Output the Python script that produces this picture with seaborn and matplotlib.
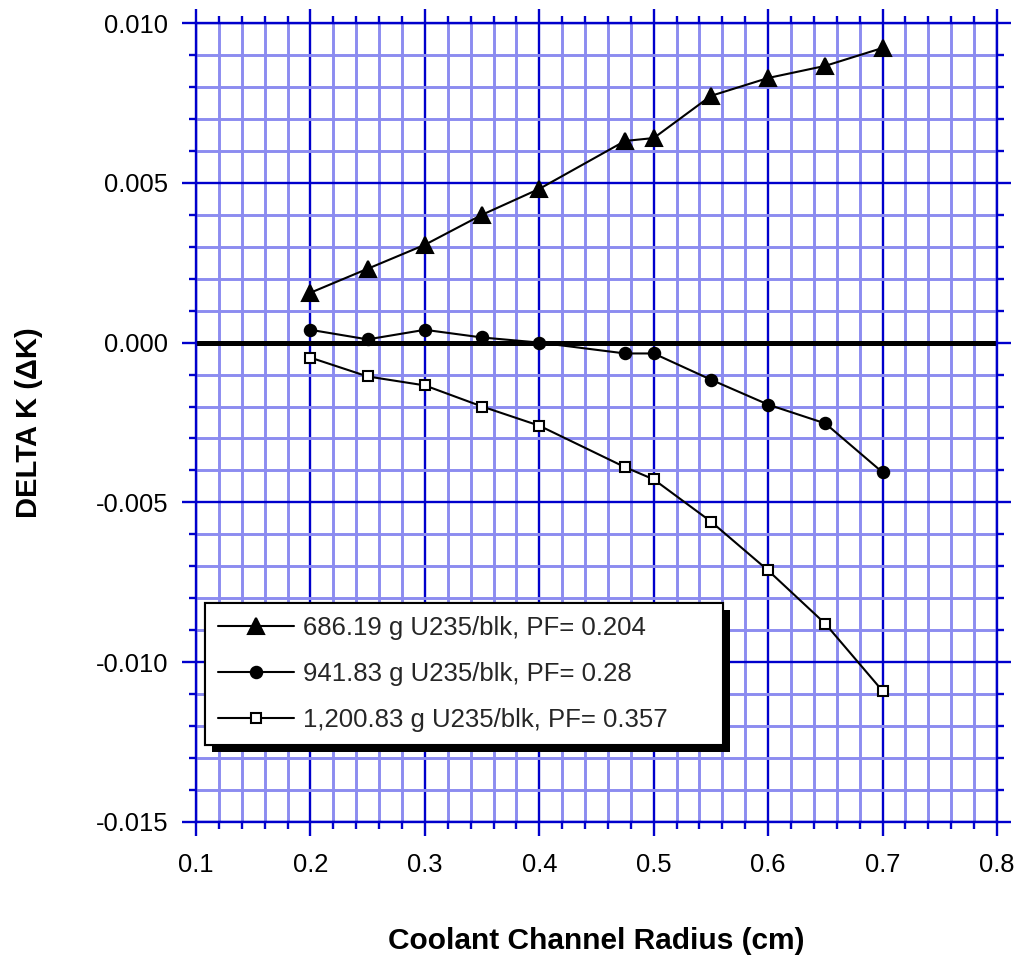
import numpy as np
import pandas as pd
import matplotlib
matplotlib.use("Agg")
import matplotlib.pyplot as plt
import matplotlib.patheffects as pe
from matplotlib.lines import Line2D
from matplotlib.ticker import MultipleLocator, FormatStrFormatter
import seaborn as sns

# ---- data ----
radius = [0.2, 0.25, 0.3, 0.35, 0.4, 0.475, 0.5, 0.55, 0.6, 0.65, 0.7]
dk_686 = [0.00156, 0.00231, 0.00306, 0.00400, 0.00481, 0.00631, 0.00640,
          0.00772, 0.00828, 0.00866, 0.00922]
dk_941 = [0.00040, 0.00010, 0.00040, 0.00016, 0.00000, -0.00034, -0.00034,
          -0.00116, -0.00194, -0.00253, -0.00406]
dk_1200 = [-0.00047, -0.00106, -0.00134, -0.00200, -0.00260, -0.00390, -0.00428,
           -0.00560, -0.00713, -0.00880, -0.01090]
labels = ["686.19 g U235/blk, PF= 0.204",
          "941.83 g U235/blk, PF= 0.28",
          "1,200.83 g U235/blk, PF= 0.357"]

df = pd.DataFrame({
    "radius": radius * 3,
    "dk": dk_686 + dk_941 + dk_1200,
    "series": [labels[0]] * len(radius) + [labels[1]] * len(radius) + [labels[2]] * len(radius),
})

sns.set_style("white")
plt.rcParams["font.family"] = ["Liberation Sans", "DejaVu Sans"]
plt.rcParams["axes.unicode_minus"] = False

fig = plt.figure(figsize=(10.16, 9.59), dpi=100)
ax = fig.add_axes([0.1929, 0.1429, 0.7884, 0.8331])

major_c = "#0000cc"
minor_c = "#8c8cf0"

ax.set_xlim(0.1, 0.8)
ax.set_ylim(-0.015, 0.010)
ax.xaxis.set_major_locator(MultipleLocator(0.1))
ax.xaxis.set_minor_locator(MultipleLocator(0.02))
ax.yaxis.set_major_locator(MultipleLocator(0.005))
ax.yaxis.set_minor_locator(MultipleLocator(0.001))
ax.xaxis.set_major_formatter(FormatStrFormatter("%.1f"))
ax.yaxis.set_major_formatter(FormatStrFormatter("%.3f"))

ax.grid(which="minor", color=minor_c, lw=2.1, zorder=0)
ax.grid(which="major", color=major_c, lw=1.7, zorder=0.5)
ax.set_axisbelow(True)
for s in ax.spines.values():
    s.set_color(major_c)
    s.set_linewidth(1.7)

ax.tick_params(which="both", direction="out", color=major_c,
               top=True, right=True, bottom=True, left=True)
ax.tick_params(which="major", length=10, width=1.7, labelsize=18.4,
               labelcolor="black")
ax.tick_params(axis="x", which="major", pad=12)
ax.tick_params(axis="y", which="major", pad=10)
ax.tick_params(which="minor", length=5, width=1.7)

ax.axhline(0, color="black", lw=3.6, zorder=2)

sns.lineplot(data=df, x="radius", y="dk", hue="series", style="series",
             palette=["black"] * 3, markers=["^", "o", "s"], dashes=False,
             markersize=10, linewidth=1.5, ax=ax, zorder=3, legend=False)

marker_list = ["^", "o", "s"]
msizes = [11.5, 8.2, 7.3]
faces = ["black", "black", "white"]
lines = [l for l in ax.get_lines() if len(l.get_xdata()) == len(radius)]
for l, ms, fc in zip(lines, msizes, faces):
    l.set_markersize(ms)
    l.set_markeredgecolor("black")
    l.set_markeredgewidth(1.5)
    l.set_markerfacecolor(fc)
    l.set_color("black")

handles = [Line2D([], [], color="black", lw=1.5, marker=m, markersize=ms,
                  markerfacecolor=fc, markeredgecolor="black", markeredgewidth=1.5)
           for m, ms, fc in zip(marker_list, msizes, faces)]
leg = ax.legend(handles, labels, loc="upper left",
                bbox_to_anchor=(0.0112, 0.10, 0.6467, 0.174), mode="expand",
                borderaxespad=0, fontsize=18.5, frameon=True, fancybox=False,
                framealpha=1, edgecolor="black", handlelength=2.95,
                handletextpad=0.35, labelspacing=0.86, borderpad=0.5)
leg.get_frame().set_linewidth(1.5)
leg.get_frame().set_path_effects([
    pe.withSimplePatchShadow(offset=(5, -5), shadow_rgbFace="black", alpha=1),
    pe.Normal()])
leg.set_zorder(5)

ax.set_xlabel("Coolant Channel Radius (cm)", fontsize=21.5, fontweight="bold",
              color="black", va="baseline")
ax.set_ylabel("DELTA K (\u0394K)", fontsize=21, fontweight="bold",
              color="black", va="center")
ax.xaxis.set_label_coords(0.5, -0.159)
ax.yaxis.set_label_coords(-0.208, 0.5)

fig.savefig("out.png", dpi=100)
